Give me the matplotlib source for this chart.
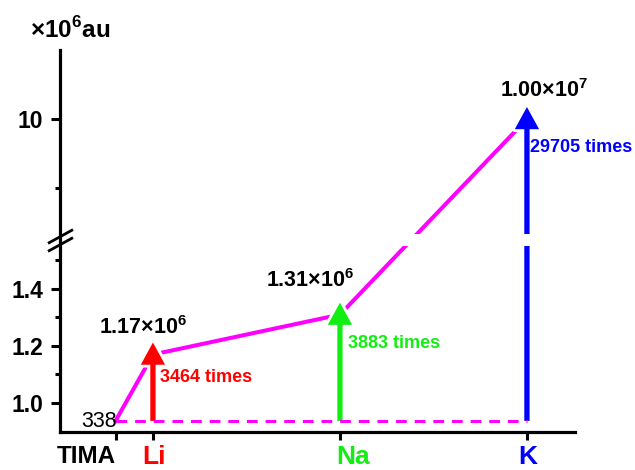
import numpy as np
import matplotlib
matplotlib.use("Agg")
import matplotlib.pyplot as plt
import matplotlib.patheffects as pe
from matplotlib import transforms as mtransforms
from matplotlib.patches import ArrowStyle

plt.rcParams["font.family"] = ["Liberation Sans", "DejaVu Sans"]
plt.rcParams["mathtext.fontset"] = "custom"
plt.rcParams["mathtext.rm"] = "Liberation Sans"
plt.rcParams["mathtext.bf"] = "Liberation Sans:bold"

# ---- data -------------------------------------------------------------
probes = ["TIMA", "Li", "Na", "K"]
probe_x = [0.8, 1, 2, 3]
intensity = [338, 1.17e6, 1.31e6, 1.00e7]        # signal, au
enhancement = [None, 3464, 3883, 29705]          # fold increase vs TIMA
probe_colors = ["black", "#ff0000", "#11ee11", "#0000ff"]
base_level = 0.937   # schematic height of the bare TIMA signal (x10^6 axis)

# broken y axis: 0.9-1.55 stretched, 1.7-15 compressed
brk_v = [0.898, 1.55, 1.70, 15.0]
brk_s = [0.0, 185.75, 198.5, 382.0]

MAGENTA = "#ff00ff"


def fwd(v):
    return np.interp(v, brk_v, brk_s)


def inv(s):
    return np.interp(s, brk_s, brk_v)


levels = [base_level] + [v / 1e6 for v in intensity[1:]]

fig = plt.figure(figsize=(6.35, 4.7), dpi=100)
ax = fig.add_axes([60 / 635, 38 / 470, 515 / 635, 382 / 470])
ax.set_yscale("function", functions=(fwd, inv))
ax.set_ylim(brk_v[0], brk_v[-1])
ax.set_xlim(0.503, 3.257)

# magenta trend line + dashed baseline
ax.plot(probe_x, levels, color=MAGENTA, lw=2.9, zorder=2)
ax.plot([probe_x[0], probe_x[-1]], [base_level, base_level], color=MAGENTA,
        lw=2.2, ls=(0, (3.5, 2.6)), zorder=4)

# enhancement arrows, tip sits a little above the value
tip_tr = mtransforms.offset_copy(ax.transData, fig=fig, x=0, y=12, units="dots")
arrow_style = ArrowStyle("simple", head_length=1.6, head_width=1.75, tail_width=0.38)
for x, lvl, c in zip(probe_x[1:], levels[1:], probe_colors[1:]):
    ax.annotate("", xy=(x, lvl), xycoords=tip_tr,
                xytext=(x, base_level), textcoords="data",
                arrowprops=dict(arrowstyle=arrow_style, mutation_scale=10,
                                color=c, lw=0, shrinkA=0, shrinkB=0,
                                path_effects=[pe.withStroke(linewidth=4, foreground="white")]),
                zorder=3)

# value labels above the arrows, fold labels beside the shafts
value_off = [(-6.8, 14.8), (-21.6, 19.6), (12.6, 15.8)]
times_off = [(5.0, -19.8), (5.8, -24.0), (2.2, -23.8)]
for i in range(1, 4):
    v = intensity[i]
    e = int(np.floor(np.log10(v)))
    txt = f"{v / 10**e:.2f}×10$^{{\\mathbf{{{e}}}}}$"
    ax.annotate(txt, xy=(probe_x[i], levels[i]), xytext=value_off[i - 1],
                textcoords="offset points", ha="center", va="baseline",
                fontsize=15.5, fontweight="bold", color="black", zorder=6)
    ax.annotate(f"{enhancement[i]} times", xy=(probe_x[i], levels[i]),
                xytext=times_off[i - 1], textcoords="offset points",
                ha="left", va="baseline", fontsize=13, fontweight="bold",
                color=probe_colors[i], zorder=6)

ax.annotate(f"{intensity[0]}", xy=(probe_x[0], base_level), xytext=(1, -4.3),
            textcoords="offset points", ha="right", va="baseline",
            fontsize=15.5, color="black", zorder=6)

# axis break: white band through the lines and // on the spine
ax.axhspan(brk_v[1], brk_v[2], xmin=0.006, xmax=1, color="white", lw=0, zorder=5)
brk_tr = mtransforms.blended_transform_factory(ax.transAxes, ax.transData)
ax.plot([0, 0], [1.575, 1.665], transform=brk_tr, marker=[(-1, -0.55), (1, 0.55)],
        markersize=18, mew=2.0, color="black", linestyle="none", clip_on=False, zorder=7)

# spines / ticks
for side in ["top", "right"]:
    ax.spines[side].set_visible(False)
for side in ["left", "bottom"]:
    ax.spines[side].set_linewidth(2.3)

ax.set_yticks([1.0, 1.2, 1.4, 10])
ax.set_yticklabels(["1.0", "1.2", "1.4", "10"])
ax.set_yticks([1.1, 1.3, 1.5, 5], minor=True)
ax.tick_params(axis="y", which="major", length=6.5, width=2.2, pad=5.5,
               labelsize=16.5)
ax.tick_params(axis="y", which="minor", length=3.6, width=2.2)
for lab in ax.get_yticklabels():
    lab.set_fontweight("bold")

ax.set_xticks(probe_x)
ax.set_xticklabels(probes)
ax.tick_params(axis="x", which="major", length=5.8, width=2.2, pad=3.5)
ax.tick_params(axis="x", which="minor", bottom=False)
label_shift = [0, 1, 13, 1]   # px, the source labels sit a bit off their ticks
for lab, c, dx in zip(ax.get_xticklabels(), probe_colors, label_shift):
    lab.set_color(c)
    lab.set_fontweight("bold")
    lab.set_fontsize(17.5 if c == "black" else 19)
    if c == "black":
        lab.set_horizontalalignment("right")
    lab.set_transform(lab.get_transform() +
                      mtransforms.ScaledTranslation(dx / 100, 0, fig.dpi_scale_trans))

fig.text(30 / 635, 1 - 38 / 470, r"×10$^{\mathbf{6}}$au", ha="left", va="baseline",
         fontsize=17.5, fontweight="bold")

fig.savefig("out.png", dpi=100)
